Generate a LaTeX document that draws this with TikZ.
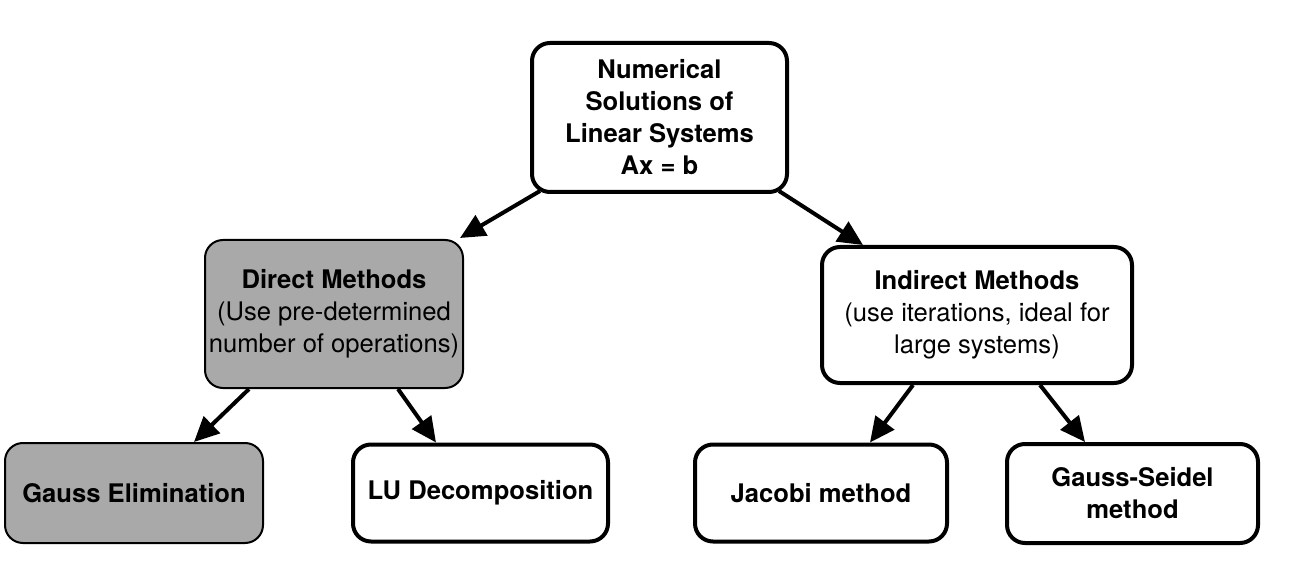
\documentclass[tikz,border=0pt]{standalone}
\usepackage{fontspec}
\setmainfont{TeX Gyre Heros}
\usetikzlibrary{positioning, arrows.meta}
\definecolor{boxgray}{HTML}{A9A9A9}

\begin{document}
\begin{tikzpicture}[
    % GLOBAL CFG
    x=1pt, y=-1pt,
    font=\fontsize{25.6}{32}\selectfont,
    >={Triangle[length=25pt, width=23pt]},
    % Styles
    topic/.style={% For the white boxes
        rectangle,
        rounded corners=18pt,
        draw,
        line width=4pt,
        fill=white,
        align=center,
        inner sep=0pt,
        },
    chosen/.style={% For the grey boxes
        rectangle,
        rounded corners=18pt,
        draw,
        line width=2pt,
        fill=boxgray,
        align=center,
        inner sep=0pt,
        },
    link/.style={% Arrows between boxes
        ->,
        line width=4pt,
        },
    ]

    \useasboundingbox (0,0) rectangle (1290,569);

    % Root
    \node [topic, minimum width=255pt, minimum height=149pt] (root) at (659.5,117.5)
        {\textbf{Numerical}\\ \textbf{Solutions of}\\ \textbf{Linear Systems}\\ \textbf{Ax = b}};

    % Second level
    \node [chosen, minimum width=258pt, minimum height=148pt] (direct) at (334,314)
        {\textbf{Direct Methods}\\ (Use pre-determined\\ number of operations)};
    \node [topic, minimum width=310pt, minimum height=136pt] (indirect) at (977,315)
        {\textbf{Indirect Methods}\\ (use iterations, ideal for\\ large systems)};

    % Leaves
    \node [chosen, minimum width=258pt, minimum height=100pt] (gauss) at (134,493)
        {\textbf{Gauss Elimination}};
    \node [topic, minimum width=255pt, minimum height=97pt] (lu) at (480.5,493)
        {\textbf{LU Decomposition}};
    \node [topic, minimum width=252pt, minimum height=97pt] (jacobi) at (821,493)
        {\textbf{Jacobi method}};
    \node [topic, minimum width=251pt, minimum height=99pt] (seidel) at (1132.5,493.5)
        {\textbf{Gauss-Seidel}\\ \textbf{method}};

    % Connecting all
    \draw [link] ([xshift=10pt, yshift=3pt]root.south west) -- ([xshift=-4pt, yshift=1pt]direct.north east);
    \draw [link] ([xshift=-10pt, yshift=3pt]root.south east) -- ([xshift=43pt]indirect.north west);

    \draw [link] ([xshift=45pt]direct.south west) -- ([xshift=-70pt]gauss.north east);
    \draw [link] ([xshift=-66pt]direct.south east) -- ([xshift=85pt]lu.north west);

    \draw [link] ([xshift=93pt]indirect.south west) -- ([xshift=-79pt]jacobi.north east);
    \draw [link] ([xshift=-94pt]indirect.south east) -- ([xshift=80pt]seidel.north west);

\end{tikzpicture}
\end{document}
